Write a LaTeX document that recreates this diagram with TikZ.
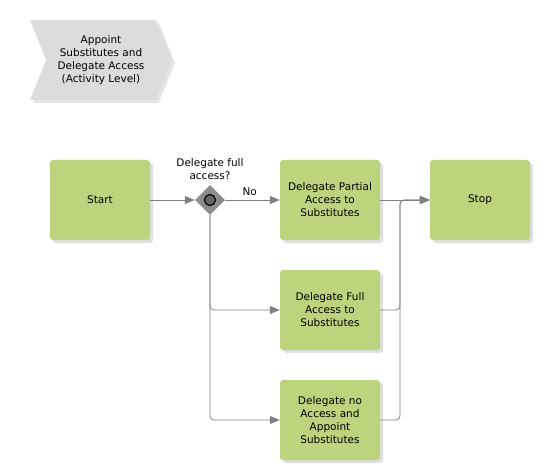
\documentclass[tikz,border=0pt]{standalone}
\usepackage{fontspec}
\setmainfont{DejaVu Sans}
\usepackage{tikz}
\usetikzlibrary{arrows.meta,shapes.geometric,shapes.symbols,shadows}
\definecolor{taskgreen}{RGB}{189,211,126}
\definecolor{linegray}{RGB}{128,128,128}
\definecolor{chevgray}{RGB}{220,220,220}
\begin{document}
\begin{tikzpicture}[x=1pt,y=-1pt,
    task/.style={draw=none, fill=taskgreen, rounded corners=3pt, minimum width=100pt, minimum height=80pt, inner sep=2pt, align=center, font=\fontsize{10.5}{13}\selectfont, drop shadow={shadow xshift=3pt, shadow yshift=-3pt, fill=black!25}},
    gate/.style={draw=none, fill=black!45, diamond, minimum size=30pt, inner sep=0pt},
    flow/.style={draw=linegray, line width=0.8pt, rounded corners=4pt, -{Triangle[length=10pt,width=8pt]}},
    lbl/.style={font=\fontsize{10.5}{13}\selectfont, align=center}]
    \useasboundingbox (0,0) rectangle (540,470);
    \node (proc) at (101,60) [signal, signal to=east, signal from=west, signal pointer angle=136, fill=chevgray, minimum width=142pt, minimum height=80pt, inner sep=0pt, align=center, font=\fontsize{10.5}{13}\selectfont, drop shadow={shadow xshift=3pt, shadow yshift=-3pt, fill=black!20}] {Appoint\\Substitutes and\\Delegate Access\\(Activity Level)};

    \node[task] (start) at (100,200) {Start};
    \node[gate] (gw) at (210,200) {};
    \node[draw=black, line width=1.2pt, fill=black!60, circle, minimum size=11pt, inner sep=0pt] (gwc) at (210,200) {};
    \node[lbl] (q) at (210,169) {Delegate full\\access?};
    \node[task] (partial) at (330,200) {Delegate Partial\\Access to\\Substitutes};
    \node[task] (full) at (330,310) {Delegate Full\\Access to\\Substitutes};
    \node[task] (none) at (330,420) {Delegate no\\Access and\\Appoint\\Substitutes};
    \node[task] (stop) at (480,200) {Stop};

    \draw[flow] (start) -- (gw);
    \draw[flow] (gw) -- node[lbl, pos=0.45, above=1pt] {No} (partial);
    \draw[flow] (gw.south) |- (full);
    \draw[flow] (gw.south) |- (none);
    \draw[flow] (partial) -- (stop);
    \draw[flow] (full.east) -- (400,310) -- (400,200) -- (stop.west);
    \draw[flow] (none.east) -- (400,420) -- (400,200) -- (stop.west);
\end{tikzpicture}
\end{document}
